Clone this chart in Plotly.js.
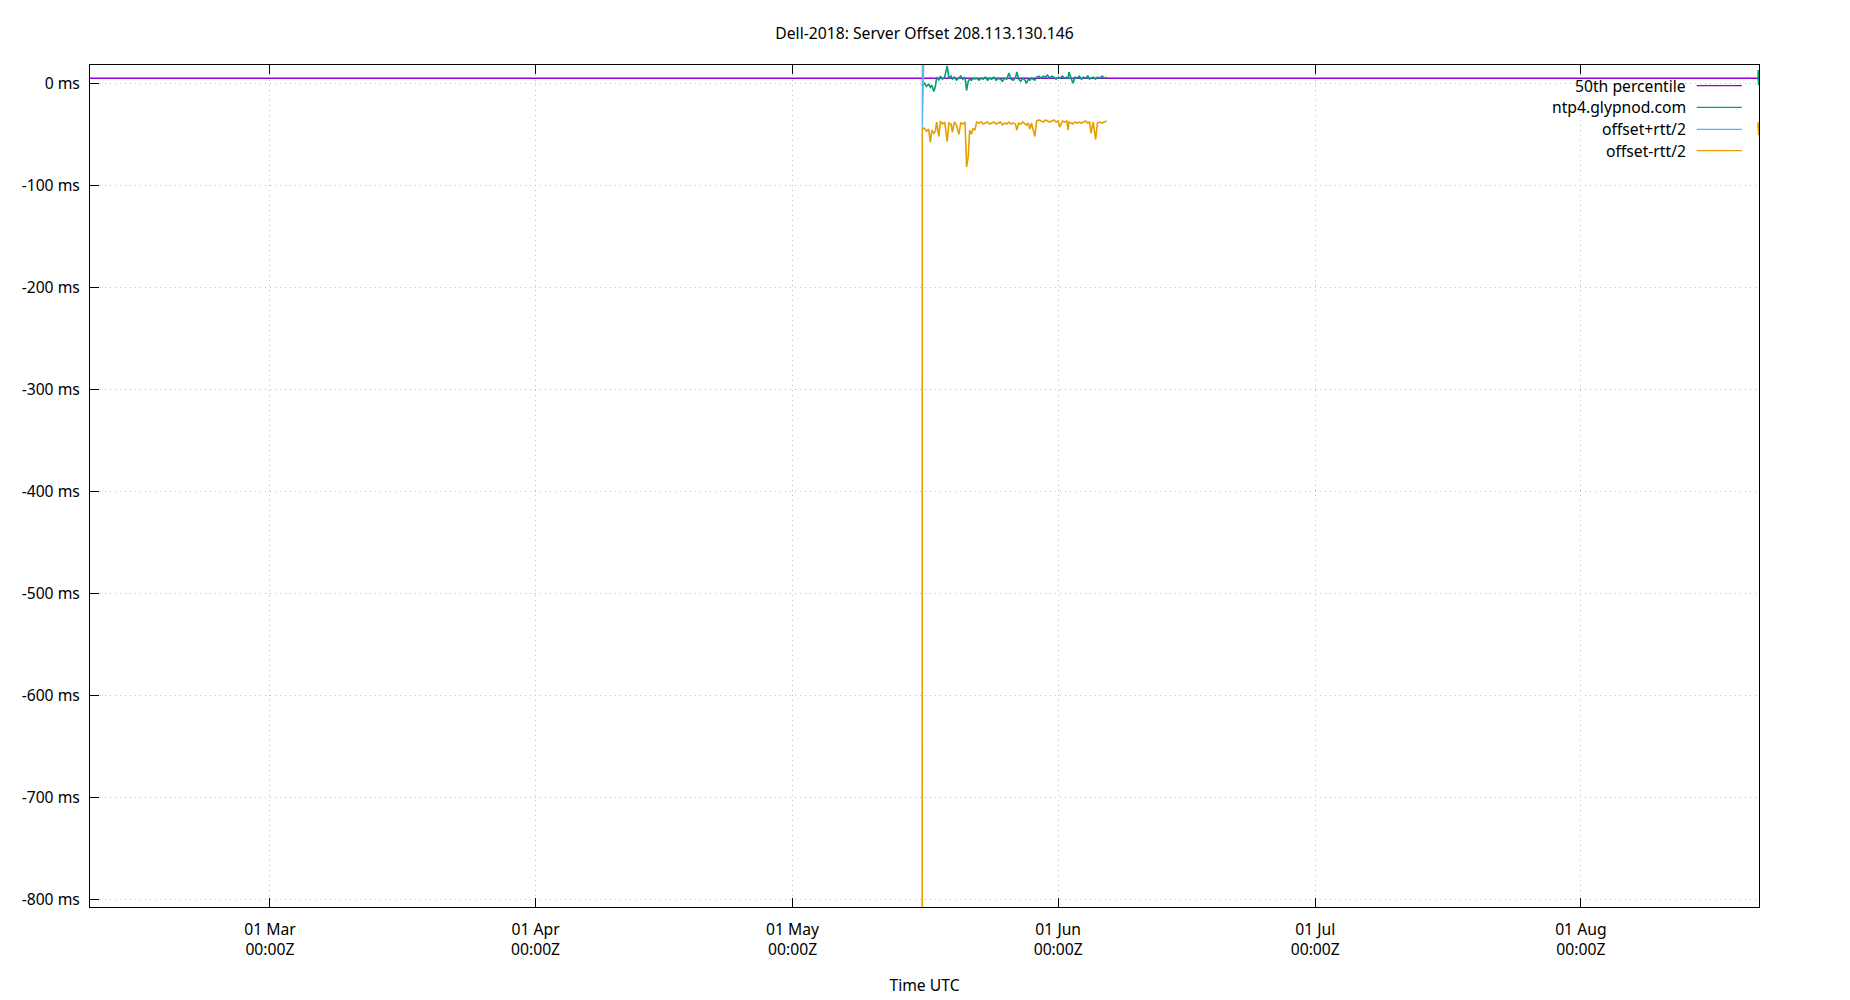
<!DOCTYPE html>
<html>
<head>
<meta charset="utf-8">
<script src="https://cdn.plot.ly/plotly-3.0.1.min.js"></script>
<style>html,body{margin:0;padding:0;background:#fff;}#chart{width:1850px;height:1000px;}</style>
</head>
<body>
<div id="chart"></div>
<script>
// ---- data ----
const chartTitle = "Dell-2018: Server Offset 208.113.130.146";
const xTitle = "Time UTC";
const seriesNames = ["50th percentile", "ntp4.glypnod.com", "offset+rtt/2", "offset-rtt/2"];
const seriesColors = ["#9400d3", "#009e73", "#56b4e9", "#e69f00"];

const p50 = 4.9; // ms

const times = [
 "2023-05-16 03:00","2023-05-16 03:20","2023-05-16 09:00","2023-05-16 15:00","2023-05-16 21:00",
 "2023-05-17 02:00","2023-05-17 06:00","2023-05-17 11:45","2023-05-17 16:00","2023-05-17 19:30",
 "2023-05-18 01:40","2023-05-18 06:00","2023-05-18 12:00","2023-05-18 18:00","2023-05-19 01:00",
 "2023-05-19 06:00","2023-05-19 12:00","2023-05-19 15:40","2023-05-19 21:00","2023-05-20 03:00",
 "2023-05-20 09:50","2023-05-20 15:00","2023-05-20 21:00","2023-05-21 03:00","2023-05-21 07:25",
 "2023-05-21 12:00","2023-05-21 16:00","2023-05-21 21:00","2023-05-22 02:00","2023-05-22 06:40",
 "2023-05-22 11:30","2023-05-22 18:00","2023-05-23 00:00","2023-05-23 06:00","2023-05-23 12:00",
 "2023-05-23 18:00","2023-05-24 00:00","2023-05-24 06:00","2023-05-24 12:00","2023-05-24 18:00",
 "2023-05-25 00:00","2023-05-25 06:00","2023-05-25 12:00","2023-05-25 18:00","2023-05-26 00:00",
 "2023-05-26 06:00","2023-05-26 12:00","2023-05-26 18:00","2023-05-27 00:00","2023-05-27 04:20",
 "2023-05-27 09:00","2023-05-27 15:00","2023-05-27 21:00","2023-05-28 03:00","2023-05-28 07:30",
 "2023-05-28 12:00","2023-05-28 17:00","2023-05-28 21:00","2023-05-29 01:10","2023-05-29 06:40",
 "2023-05-29 11:30","2023-05-29 18:00","2023-05-30 00:00","2023-05-30 06:00","2023-05-30 12:00",
 "2023-05-30 18:00","2023-05-31 00:00","2023-05-31 06:00","2023-05-31 12:00","2023-05-31 18:00",
 "2023-06-01 00:00","2023-06-01 04:45","2023-06-01 12:00","2023-06-01 18:00","2023-06-02 00:00",
 "2023-06-02 04:00","2023-06-02 06:00","2023-06-02 12:00","2023-06-02 17:15","2023-06-02 23:00",
 "2023-06-03 05:00","2023-06-03 11:00","2023-06-03 17:00","2023-06-03 23:00","2023-06-04 05:00",
 "2023-06-04 11:00","2023-06-04 16:00","2023-06-04 19:40","2023-06-05 02:00","2023-06-05 08:50",
 "2023-06-05 14:00","2023-06-05 20:00","2023-06-06 03:00","2023-06-06 09:00","2023-06-06 15:30",
 "2023-07-15 00:00",
 "2023-08-21 16:00","2023-08-21 17:00","2023-08-21 17:50","2023-08-21 18:40"
];

const offsetMs = [
 -1,-2,0,-3,-1,
 -4,-2,-8,-3,6,
 3,7,4,6,17,
 5,7,4,6,3,
 5,7,4,6,-7,
 2,4,3,5,4,
 5,3,5,4,6,
 3,5,4,6,3,
 5,4,2,5,4,
 10,4,3,5,11,
 4,2,5,3,0,
 4,3,5,4,3,
 6,7,5,7,6,
 8,5,7,6,4,
 6,5,7,5,6,
 5,11,5,0,6,
 5,7,4,6,5,
 7,4,5,6,4,
 6,5,7,5,6,
 null,
 3,13,-2,5
];

const offsetPlusHalfRtt = [
 900,-45,46,44,47,
 52,45,38,44,48,
 52,47,45,47,63,
 46,48,45,46,45,
 47,46,45,46,60,
 55,48,47,46,48,
 46,45,47,46,47,
 44,47,46,47,45,
 46,47,44,46,47,
 50,46,45,47,52,
 46,44,47,45,42,
 46,48,47,49,52,
 48,49,47,49,48,
 50,47,49,48,46,
 48,49,48,47,48,
 50,52,47,42,48,
 47,48,46,48,47,
 49,46,48,48,49,
 48,47,49,47,48,
 null,
 48,55,45,49
];

const offsetMinusHalfRtt = [
 -900,-45,-44,-47,-45,
 -58,-46,-49,-47,-38,
 -52,-37,-40,-38,-57,
 -39,-40,-48,-38,-41,
 -50,-39,-40,-38,-82,
 -72,-46,-50,-44,-46,
 -38,-39,-38,-40,-39,
 -38,-40,-39,-38,-40,
 -39,-38,-41,-39,-40,
 -38,-40,-39,-40,-46,
 -39,-40,-38,-40,-41,
 -39,-45,-39,-46,-52,
 -37,-36,-37,-38,-36,
 -37,-38,-37,-36,-38,
 -37,-43,-37,-38,-37,
 -46,-38,-39,-40,-38,
 -39,-38,-39,-38,-37,
 -39,-38,-49,-38,-55,
 -39,-38,-39,-38,-37,
 null,
 -44,-38,-51,-42
];

const xTickVals = ["2023-03-01","2023-04-01","2023-05-01","2023-06-01","2023-07-01","2023-08-01"];
const xTickText = ["01 Mar<br>00:00Z","01 Apr<br>00:00Z","01 May<br>00:00Z","01 Jun<br>00:00Z","01 Jul<br>00:00Z","01 Aug<br>00:00Z"];
const yTickVals = [0,-100,-200,-300,-400,-500,-600,-700,-800];
const yTickText = ["0 ms","-100 ms","-200 ms","-300 ms","-400 ms","-500 ms","-600 ms","-700 ms","-800 ms"];

const xRange = ["2023-02-08 00:00","2023-08-21 19:00"];
const yRange = [-807.5, 17.9];

// ---- styling / layout ----
const FONT = "Noto Sans, Open Sans, sans-serif";
const FS = 15.7;
const M = {l: 90, r: 91, t: 65, b: 93};
const plotH = 1000 - M.t - M.b;

const seriesY = [null, offsetMs, offsetPlusHalfRtt, offsetMinusHalfRtt];
const seriesWidth = [1.2, 1.6, 1.2, 1.6];
const traces = [];
for (let i = 1; i < 4; i++) {
  traces.push({
    type: "scatter", mode: "lines", name: seriesNames[i],
    x: times, y: seriesY[i],
    line: {color: seriesColors[i], width: seriesWidth[i]},
    connectgaps: false, showlegend: false, hoverinfo: "skip"
  });
}

const shapes = [{
  type: "line", xref: "paper", x0: 0, x1: 1, yref: "y", y0: p50, y1: p50,
  line: {color: seriesColors[0], width: 1.3}, layer: "between"
}];
const annotations = [];
const legendRowPx = [20.7, 42.3, 64.3, 85.7];
const legendTextX = 0.9575, legendLine0 = 0.9627, legendLine1 = 0.9897;
for (let i = 0; i < 4; i++) {
  const yp = 1 - legendRowPx[i] / plotH;
  annotations.push({
    xref: "paper", yref: "paper", x: legendTextX, y: yp, xanchor: "right", yanchor: "middle",
    text: seriesNames[i], showarrow: false, font: {family: FONT, size: FS, color: "#000"}
  });
  shapes.push({
    type: "line", xref: "paper", yref: "paper", x0: legendLine0, x1: legendLine1, y0: yp, y1: yp,
    line: {color: seriesColors[i], width: 1.2}
  });
}

const layout = {
  width: 1850, height: 1000,
  margin: M,
  paper_bgcolor: "#fff", plot_bgcolor: "#fff",
  font: {family: FONT, size: FS, color: "#000"},
  title: {text: chartTitle, font: {family: FONT, size: FS, color: "#000"},
          x: 0.5, xref: "paper", y: 0.966, yref: "container", yanchor: "middle"},
  xaxis: {
    type: "date", range: xRange, autorange: false,
    tickmode: "array", tickvals: xTickVals, ticktext: xTickText,
    ticks: "inside", ticklen: 9, tickwidth: 1, tickcolor: "#000",
    showline: true, linecolor: "#000", linewidth: 1, mirror: "ticks",
    showgrid: true, gridcolor: "#bcbcbc", gridwidth: 1, griddash: "1px,4px",
    zeroline: false, ticklabelstandoff: 8,
    title: {text: xTitle, font: {family: FONT, size: FS, color: "#000"}, standoff: 20}
  },
  yaxis: {
    range: yRange, autorange: false,
    tickmode: "array", tickvals: yTickVals, ticktext: yTickText,
    ticks: "inside", ticklen: 9, tickwidth: 1, tickcolor: "#000",
    showline: true, linecolor: "#000", linewidth: 1, mirror: true,
    showgrid: true, gridcolor: "#bcbcbc", gridwidth: 1, griddash: "1px,4px",
    zeroline: false, ticklabelstandoff: 6
  },
  shapes: shapes,
  annotations: annotations,
  showlegend: false
};

Plotly.newPlot("chart", traces, layout, {displayModeBar: false, staticPlot: true});
</script>
</body>
</html>
